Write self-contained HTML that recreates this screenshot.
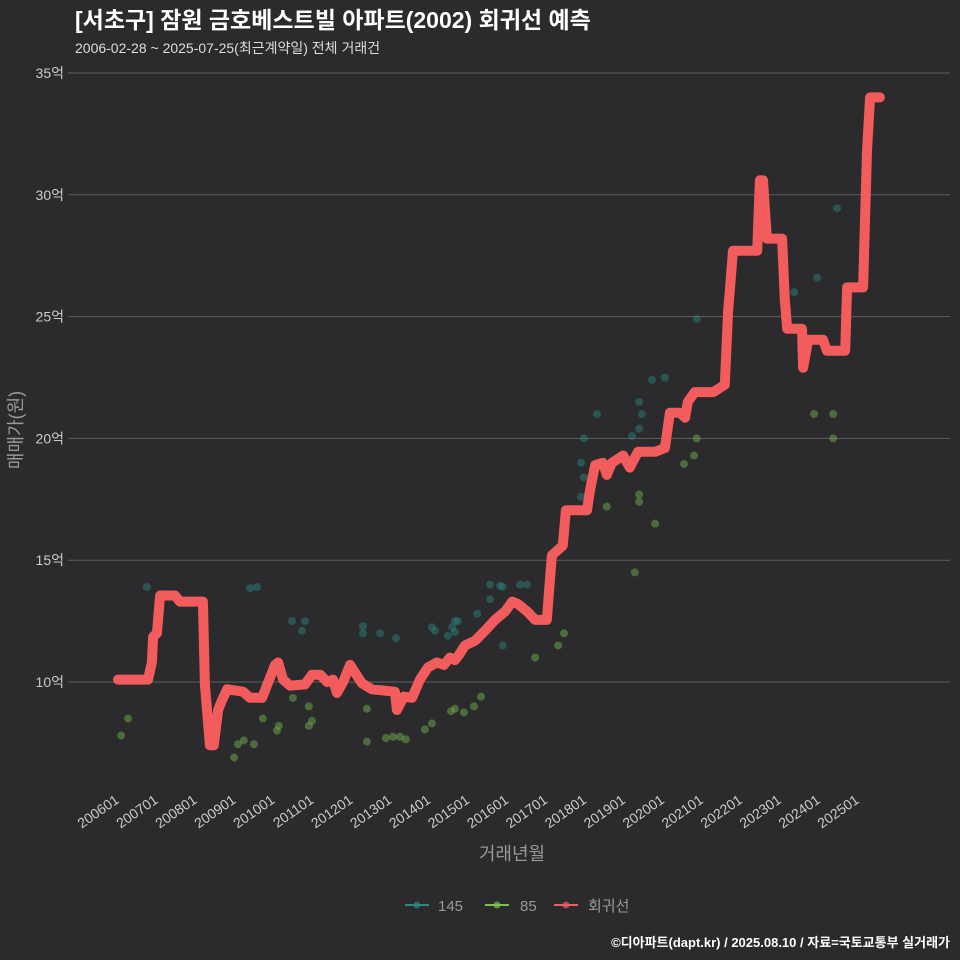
<!DOCTYPE html>
<html><head><meta charset="utf-8"><style>
html,body{margin:0;padding:0;background:#2b2a2c;}
svg{display:block;font-family:"Liberation Sans","Noto Sans CJK KR",sans-serif;}
</style></head><body>
<svg id="chart" width="960" height="960" viewBox="0 0 960 960">
<rect width="960" height="960" fill="#2b2a2c"/>
<text x="75" y="28" fill="#ffffff" font-size="23" font-weight="bold">[서초구] 잠원 금호베스트빌 아파트(2002) 회귀선 예측</text>
<text x="75" y="53" fill="#dddddd" font-size="14">2006-02-28 ~ 2025-07-25(최근계약일) 전체 거래건</text>
<g id="grid"></g>
<g id="pts"></g>
<g id="line"></g>
<g id="xaxis"></g>
<text x="512" y="860" fill="#999" font-size="18" text-anchor="middle">거래년월</text>
<text transform="translate(22,430) rotate(-90)" fill="#999" font-size="18" text-anchor="middle">매매가(원)</text>
<g>
<g><line x1="405" y1="905" x2="429" y2="905" stroke="#2a8a82" stroke-width="2"/><circle cx="417" cy="905" r="3.5" fill="#2a8a82" opacity="0.7"/><text x="438" y="911" fill="#999" font-size="15">145</text></g>
<g><line x1="485" y1="905" x2="509" y2="905" stroke="#7bc24f" stroke-width="2"/><circle cx="497" cy="905" r="3.5" fill="#7bc24f" opacity="0.7"/><text x="520" y="911" fill="#999" font-size="15">85</text></g>
<g><line x1="554" y1="905" x2="578" y2="905" stroke="#f25c5c" stroke-width="2"/><circle cx="566" cy="905" r="3.5" fill="#f25c5c" opacity="0.7"/><text x="588" y="911" fill="#999" font-size="15">회귀선</text></g>
</g>
<text x="950" y="947" fill="#ffffff" font-size="13" font-weight="bold" text-anchor="end">©디아파트(dapt.kr) / 2025.08.10 / 자료=국토교통부 실거래가</text>
</svg>
<script>
const yTicks=[10,15,20,25,30,35];
const xTickLabels=["200601","200701","200801","200901","201001","201101","201201","201301","201401","201501","201601","201701","201801","201901","202001","202101","202201","202301","202401","202501"];
const lineT=[2006.00,2006.77,2006.87,2006.90,2007.00,2007.08,2007.46,2007.59,2008.18,2008.23,2008.36,2008.46,2008.57,2008.67,2008.80,2009.21,2009.39,2009.70,2010.03,2010.11,2010.24,2010.42,2010.80,2010.98,2011.19,2011.37,2011.52,2011.62,2011.78,2011.96,2012.08,2012.26,2012.52,2013.11,2013.16,2013.34,2013.55,2013.75,2013.96,2014.19,2014.37,2014.52,2014.65,2014.75,2014.91,2015.17,2015.42,2015.68,2015.94,2016.12,2016.27,2016.50,2016.71,2017.01,2017.14,2017.42,2017.50,2018.04,2018.12,2018.25,2018.45,2018.55,2018.68,2018.97,2019.14,2019.35,2019.79,2020.04,2020.17,2020.43,2020.56,2020.63,2020.81,2021.28,2021.58,2021.66,2021.79,2022.41,2022.48,2022.56,2022.66,2023.05,2023.12,2023.18,2023.56,2023.59,2023.72,2024.10,2024.20,2024.67,2024.72,2025.13,2025.23,2025.31,2025.56];
const lineV=[10.1,10.1,10.8,11.85,12.0,13.55,13.55,13.3,13.3,9.9,7.4,7.4,8.85,9.25,9.7,9.6,9.35,9.35,10.7,10.8,10.1,9.85,9.9,10.3,10.3,10.0,10.1,9.55,10.0,10.7,10.4,9.95,9.7,9.6,8.85,9.4,9.35,10.1,10.6,10.8,10.7,11.0,10.9,11.1,11.5,11.7,12.1,12.55,12.9,13.3,13.2,12.9,12.55,12.55,15.2,15.6,17.05,17.05,17.9,18.9,19.0,18.5,19.0,19.3,18.8,19.45,19.45,19.6,21.05,21.05,20.85,21.5,21.9,21.9,22.2,25.15,27.7,27.7,30.6,30.6,28.2,28.2,25.7,24.5,24.5,22.9,24.05,24.05,23.6,23.6,26.2,26.2,31.8,34.0,34.0];
const s145T=[2006.74,2009.39,2009.57,2010.47,2010.80,2010.72,2012.29,2012.29,2012.73,2013.14,2014.06,2014.14,2014.47,2014.58,2014.65,2014.73,2014.65,2015.22,2015.55,2015.55,2015.81,2015.88,2015.88,2016.32,2016.50,2017.89,2017.96,2017.89,2017.96,2018.30,2019.20,2019.38,2019.45,2019.38,2019.71,2020.04,2020.86,2023.36,2023.95,2024.46];
const s145V=[13.9,13.85,13.9,12.5,12.5,12.1,12.3,12.0,12.0,11.8,12.25,12.1,11.9,12.25,12.5,12.5,12.05,12.8,14.0,13.4,13.95,13.9,11.5,14.0,14.0,17.6,18.4,19.0,20.0,21.0,20.1,20.4,21.0,21.5,22.4,22.5,24.9,26.0,26.6,29.45];
const s85T=[2006.08,2006.26,2008.98,2009.08,2009.23,2009.49,2009.72,2010.08,2010.13,2010.49,2010.90,2010.90,2010.98,2012.39,2012.39,2012.88,2013.06,2013.24,2013.39,2013.88,2014.06,2014.55,2014.65,2014.88,2015.14,2015.32,2016.71,2017.30,2017.45,2018.55,2019.27,2019.38,2019.38,2019.79,2020.53,2020.79,2020.86,2023.87,2024.36,2024.36];
const s85V=[7.8,8.5,6.9,7.45,7.6,7.45,8.5,8.0,8.2,9.35,9.0,8.2,8.4,8.9,7.55,7.7,7.75,7.75,7.65,8.05,8.3,8.8,8.9,8.75,9.0,9.4,11.0,11.5,12.0,17.2,14.5,17.7,17.4,16.5,18.95,19.3,20.0,21.0,21.0,20.0];

const NS="http://www.w3.org/2000/svg";
function X(t){return 118+(t-2006)*38.95;}
function Y(v){return 682-(v-10)*24.36;}
function mk(tag,attrs,parent){const e=document.createElementNS(NS,tag);for(const k in attrs)e.setAttribute(k,attrs[k]);parent.appendChild(e);return e;}
const grid=document.getElementById('grid');
yTicks.forEach(v=>{
  const l=mk('line',{x1:68,x2:950,y1:Y(v),y2:Y(v),stroke:'#5f5f5f','stroke-width':1},grid);
  
  
  const t=mk('text',{x:64,y:Y(v)+5,fill:'#cccccc','font-size':14,'text-anchor':'end'},grid);
  t.textContent=v+'억';
  
  
});
const xa=document.getElementById('xaxis');
xTickLabels.forEach((lab,i)=>{
  const x=X(2006+i);
  const t=mk('text',{transform:`translate(${x+2},${802}) rotate(-35)`,fill:'#cccccc','font-size':14,'text-anchor':'end'},xa);
  t.textContent=lab;
  
  
});
const pts=document.getElementById('pts');
s145T.forEach((t,i)=>{
  const c=mk('circle',{cx:X(t),cy:Y(s145V[i]),r:4,fill:'#2a8a82',opacity:0.45},pts);
  
  
});
s85T.forEach((t,i)=>{
  const c=mk('circle',{cx:X(t),cy:Y(s85V[i]),r:4,fill:'#6fae4a',opacity:0.5},pts);
  
  
});
const d=lineT.map((t,i)=>(i?'L':'M')+X(t).toFixed(1)+','+Y(lineV[i]).toFixed(1)).join(' ');
const p=mk('path',{d:d,fill:'none',stroke:'#f25c5c','stroke-width':10,'stroke-linejoin':'round','stroke-linecap':'round'},document.getElementById('line'));


</script>
</body></html>
